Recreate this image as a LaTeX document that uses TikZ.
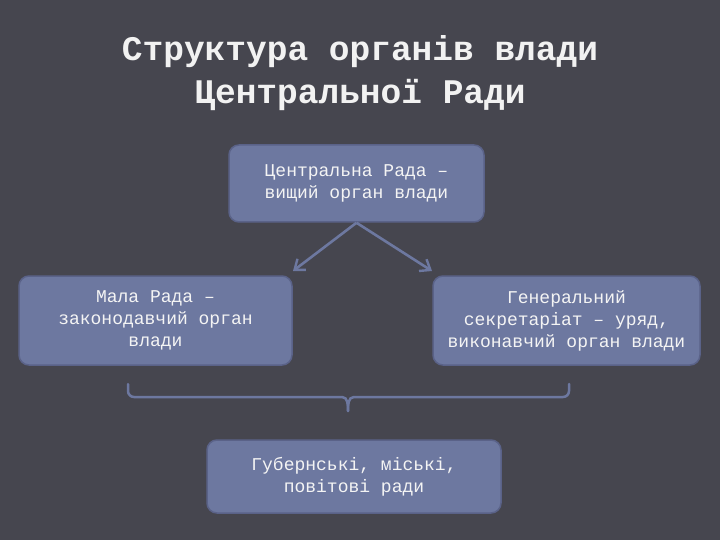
\documentclass[tikz,border=0pt]{standalone}
\usepackage{fontspec}
\setmainfont{Liberation Mono}
\usetikzlibrary{arrows.meta}
\definecolor{bg}{HTML}{46464F}
\definecolor{boxfill}{HTML}{6D78A0}
\definecolor{boxline}{HTML}{5A6288}
\definecolor{titlec}{HTML}{F2F2F2}
\definecolor{textc}{HTML}{F4F4F4}
\tikzset{
  orgbox/.style={draw=boxline, line width=1.5pt, fill=boxfill, rounded corners=10pt,
    text=textc, align=center, font=\fontsize{18}{22}\selectfont, inner sep=0pt},
  conn/.style={draw=boxfill, line width=2.6pt, -{Straight Barb[length=9pt,width=14pt,line width=2.4pt]}},
  bracel/.style={draw=boxfill, line width=2.5pt, line cap=round}
}
\begin{document}
\begin{tikzpicture}[x=1pt,y=-1pt]
\fill[bg] (0,0) rectangle (720,540);
\useasboundingbox (0,0) rectangle (720,540);
\node[text=titlec, align=center, font=\fontsize{34.5}{43}\selectfont\bfseries] (title) at (360,73)
  {Структура органів влади\\Центральної Ради};
\node[orgbox, minimum width=255pt, minimum height=77pt] (c) at (356.5,183.5)
  {Центральна Рада –\\вищий орган влади};
\node[orgbox, minimum width=273pt, minimum height=89pt] (m) at (155.5,320.5)
  {Мала Рада –\\законодавчий орган\\влади};
\node[orgbox, minimum width=267pt, minimum height=89pt] (g) at (566.5,320.5)
  {Генеральний\\секретаріат – уряд,\\виконавчий орган влади};
\node[orgbox, minimum width=294pt, minimum height=73pt] (b) at (354,476.5)
  {Губернські, міські,\\повітові ради};
\coordinate (al) at (293,271);
\coordinate (ar) at (432,271);
\draw[conn] (c.south) -- (al);
\draw[conn] (c.south) -- (ar);
\coordinate (bl) at (128,384);
\coordinate (br) at (569,384);
\coordinate (bt) at (348,411);
\draw[bracel] (bl) -- (128,391) to[out=-90,in=180] (134,397) -- (342,397) to[out=0,in=90] (bt);
\draw[bracel] (br) -- (569,391) to[out=-90,in=0] (563,397) -- (354,397) to[out=180,in=90] (bt);
\end{tikzpicture}
\end{document}
